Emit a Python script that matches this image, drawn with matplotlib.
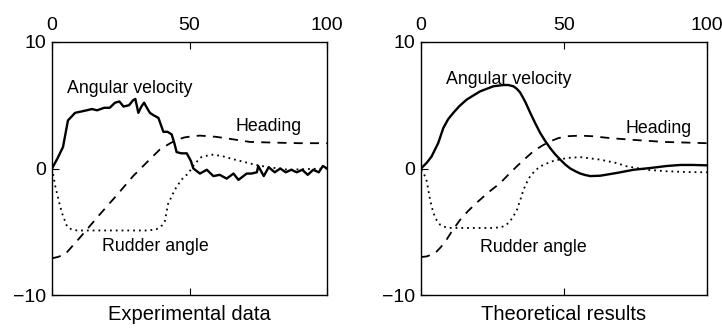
import matplotlib.pyplot as plt

plt.rcParams['font.family'] = ['Liberation Sans', 'DejaVu Sans']

# Experimental data
exp_av_x = [0, 2, 4, 5.8, 8.4, 10.5, 12.6, 14.5, 16.4, 19, 21, 22.9, 24.5, 26, 28,
            29.5, 30.3, 31.4, 32.5, 33.5, 34.5, 35.6, 37, 38.7, 40.5, 42, 43.5,
            44.5, 45.3, 47, 49, 50.5, 51.4, 53.8, 56.3, 58.7, 61, 63.5, 66, 67.8,
            70.8, 72.5, 74.5, 75, 77, 78.8, 81, 83, 85, 87, 89, 91, 93, 95, 97,
            98.5, 100]
exp_av_y = [0, 0.8, 1.7, 3.8, 4.4, 4.5, 4.6, 4.7, 4.6, 4.8, 4.8, 5.2, 5.3, 4.9, 5.0,
            5.4, 5.5, 4.4, 4.9, 5.2, 4.8, 4.4, 4.2, 4.0, 2.9, 2.9, 2.7, 2.0, 1.3,
            1.2, 1.2, 0.6, 0.0, -0.4, -0.1, -0.6, -0.5, -0.8, -0.4, -0.9, -0.4,
            -0.4, -0.3, 0.2, -0.6, 0.1, -0.3, 0.0, -0.3, -0.1, -0.3, -0.1, -0.5,
            -0.1, -0.3, 0.2, 0.0]
exp_hd_x = [0, 2, 4.7, 10, 17.5, 24, 29.5, 35, 39.2, 43, 45.3, 48, 51, 53.8, 57,
            59.8, 66, 72, 80, 90, 100]
exp_hd_y = [-7.1, -7.0, -6.8, -5.5, -3.6, -2.0, -0.6, 0.6, 1.5, 2.0, 2.25, 2.45,
            2.55, 2.6, 2.55, 2.5, 2.3, 2.1, 2.05, 2.0, 2.0]
exp_rd_x = [0, 1.2, 2.4, 3.6, 5.5, 7, 9.1, 15, 25, 35, 38, 40, 41, 42.2, 44.6,
            47, 49.5, 52, 54.3, 57.9, 61.6, 66.5, 73.8, 78.7, 86, 92, 100]
exp_rd_y = [0, -1.4, -2.5, -3.5, -4.6, -4.8, -4.9, -4.9, -4.9, -4.9, -4.8, -4.5,
            -4.2, -2.8, -1.7, -0.9, -0.4, 0.4, 0.9, 1.1, 1.0, 0.7, 0.3, 0.1,
            -0.1, -0.05, 0.0]

# Theoretical results
th_av_x = [0, 2, 3.7, 6, 7.8, 9.5, 11.3, 13.5, 16, 18.5, 20.7, 23, 25.3, 27,
           28.8, 30.5, 32.3, 33.5, 34.7, 36.5, 38.2, 40, 41.7, 43.5, 45.2, 47,
           48.7, 50.5, 52.2, 54, 55.7, 57.5, 59.2, 62.7, 68.5, 74.3, 80.2, 86,
           90.7, 95, 100]
th_av_y = [0, 0.45, 0.95, 2.0, 3.2, 3.9, 4.4, 4.95, 5.45, 5.8, 6.1, 6.3, 6.5,
           6.55, 6.6, 6.6, 6.5, 6.3, 6.0, 5.25, 4.4, 3.55, 2.8, 2.15, 1.6, 1.1,
           0.7, 0.3, 0.0, -0.22, -0.4, -0.52, -0.6, -0.57, -0.35, -0.1, 0.04,
           0.2, 0.28, 0.28, 0.25]
th_hd_x = [0, 2, 4.9, 7, 9, 11, 13.7, 16.5, 19.5, 23.5, 27.7, 30.5, 33.5, 36.5,
           39.3, 42.3, 45.2, 48, 51, 55.7, 60, 66.2, 75, 85, 100]
th_hd_y = [-7.0, -6.95, -6.7, -6.2, -5.6, -4.9, -4.05, -3.35, -2.7, -1.9, -1.15,
           -0.5, 0.17, 0.8, 1.36, 1.8, 2.15, 2.4, 2.55, 2.6, 2.55, 2.4, 2.25,
           2.1, 2.0]
th_rd_x = [0, 1, 2, 3.2, 4.3, 5.5, 6.7, 8, 10, 15, 20, 25, 27.7, 29.2, 30.6, 32,
           33.5, 34.7, 35.8, 37, 38.2, 40, 41.7, 44, 46.3, 51, 55.7, 62.7, 68,
           72, 79, 86, 93, 100]
th_rd_y = [-0.1, -0.4, -1.0, -2.5, -3.5, -4.1, -4.45, -4.6, -4.7, -4.7, -4.7,
           -4.7, -4.65, -4.55, -4.3, -3.9, -3.3, -2.5, -1.7, -1.1, -0.6, -0.15,
           0.17, 0.4, 0.6, 0.83, 0.9, 0.7, 0.45, 0.17, -0.1, -0.22, -0.28, -0.3]

fig = plt.figure(figsize=(7.22, 3.33), dpi=100)
ax1 = fig.add_axes([52 / 722, 38 / 333, 275 / 722, 253 / 333])
ax2 = fig.add_axes([421 / 722, 38 / 333, 286 / 722, 253 / 333])

panels = [
    (ax1, exp_av_x, exp_av_y, exp_hd_x, exp_hd_y, exp_rd_x, exp_rd_y,
     'Experimental data', (28.4, 6.35), (78.6, 3.3), (37.5, -6.2)),
    (ax2, th_av_x, th_av_y, th_hd_x, th_hd_y, th_rd_x, th_rd_y,
     'Theoretical results', (30.6, 7.0), (83, 3.2), (39.3, -6.25)),
]

for (ax, avx, avy, hdx, hdy, rdx, rdy, title, av_pos, hd_pos, rd_pos) in panels:
    ax.plot(avx, avy, color='black', lw=1.7)
    ax.plot(hdx, hdy, color='black', lw=1.3, dashes=(5, 4))
    ax.plot(rdx, rdy, color='black', lw=1.3, dashes=(1, 2.2))

    ax.text(*av_pos, 'Angular velocity', ha='center', va='center', fontsize=12.8)
    ax.text(*hd_pos, 'Heading', ha='center', va='center', fontsize=12.8)
    ax.text(*rd_pos, 'Rudder angle', ha='center', va='center', fontsize=12.8)

    ax.set_xlim(0, 100)
    ax.set_ylim(-10, 10)
    ax.set_xticks([0, 50, 100])
    ax.set_yticks([-10, 0, 10])
    ax.set_yticklabels(['\u221210', '0', '10'])
    ax.tick_params(axis='x', which='both', direction='in', top=True, bottom=True,
                   labeltop=True, labelbottom=False, length=5, labelsize=14, pad=6)
    ax.tick_params(axis='y', direction='in', length=5, labelsize=14, pad=4)
    for sp in ax.spines.values():
        sp.set_linewidth(1.0)
    ax.set_xlabel(title, fontsize=14.5, labelpad=7)

fig.savefig('out.png', dpi=100)
